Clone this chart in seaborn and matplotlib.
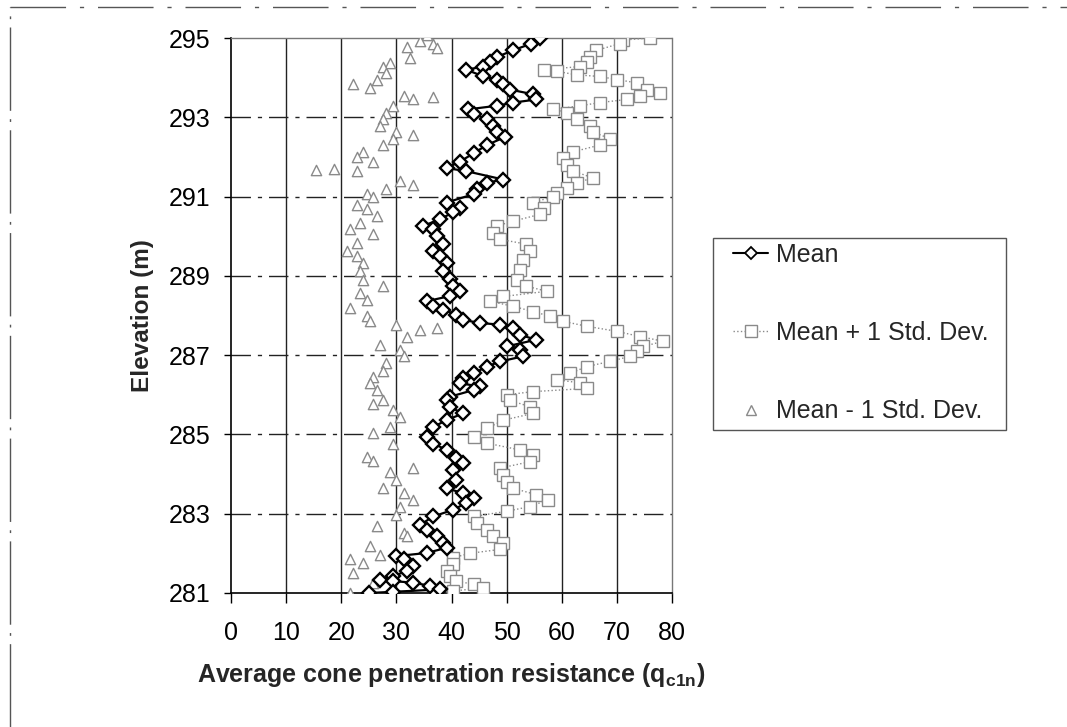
import matplotlib
matplotlib.use("Agg")
import matplotlib.pyplot as plt
from matplotlib.lines import Line2D
from matplotlib.patches import Rectangle
import seaborn as sns
import pandas as pd

# ---- data ----
mean_elev = [295.00, 294.86, 294.69, 294.52, 294.40, 294.28, 294.20, 294.03, 293.95, 293.83,
             293.70, 293.58, 293.45, 293.37, 293.29, 293.20, 293.08, 292.96, 292.79, 292.63,
             292.50, 292.30, 292.09, 291.88, 291.72, 291.64, 291.43, 291.35, 291.18, 291.06,
             290.85, 290.72, 290.60, 290.43, 290.26, 290.17, 290.00, 289.80, 289.62, 289.50,
             289.33, 289.12, 288.91, 288.74, 288.61, 288.49, 288.36, 288.23, 288.15, 288.02,
             287.89, 287.81, 287.77, 287.68, 287.51, 287.39, 287.22, 287.13, 286.97, 286.84,
             286.71, 286.54, 286.42, 286.29, 286.21, 286.12, 285.95, 285.86, 285.69, 285.53,
             285.36, 285.19, 284.94, 284.77, 284.61, 284.40, 284.27, 284.10, 283.85, 283.64,
             283.52, 283.39, 283.27, 283.10, 282.93, 282.72, 282.60, 282.43, 282.26, 282.14,
             282.01, 281.93, 281.85, 281.68, 281.55, 281.43, 281.34, 281.30, 281.26, 281.18,
             281.09, 281.03, 281.00]
mean_val = [56.0, 54.5, 51.2, 48.2, 47.0, 45.8, 42.7, 45.8, 48.2, 49.4,
            50.6, 54.8, 55.4, 51.2, 48.2, 43.0, 44.0, 46.4, 47.6, 48.2,
            49.7, 46.4, 44.0, 41.5, 39.1, 42.7, 49.4, 46.4, 44.6, 44.0,
            39.1, 41.5, 40.3, 37.9, 34.9, 36.7, 37.3, 38.5, 36.7, 37.9,
            39.1, 38.5, 39.7, 40.3, 41.5, 39.7, 35.5, 36.7, 38.5, 40.9,
            42.1, 45.2, 48.8, 51.2, 52.4, 55.4, 50.0, 52.4, 53.0, 48.8,
            46.4, 44.0, 42.1, 41.5, 45.2, 44.0, 39.7, 39.1, 39.7, 42.1,
            39.1, 36.7, 35.5, 36.7, 39.1, 40.9, 42.1, 40.3, 40.9, 39.1,
            42.1, 44.0, 42.7, 40.3, 36.7, 34.3, 35.5, 37.3, 38.5, 39.1,
            35.5, 30.0, 31.3, 33.1, 31.9, 29.4, 27.0, 29.4, 33.1, 36.1,
            37.9, 29.4, 25.0]

plus_elev = [295.00, 294.95, 294.86, 294.69, 294.53, 294.40, 294.28, 294.20, 294.16, 294.07,
             294.03, 293.95, 293.87, 293.70, 293.62, 293.54, 293.45, 293.37, 293.29, 293.20,
             293.12, 292.96, 292.79, 292.63, 292.46, 292.30, 292.13, 291.97, 291.80, 291.64,
             291.47, 291.35, 291.22, 291.10, 291.00, 290.85, 290.72, 290.55, 290.38, 290.26,
             290.09, 289.92, 289.80, 289.62, 289.41, 289.16, 288.90, 288.74, 288.61, 288.48,
             288.36, 288.23, 288.10, 287.98, 287.85, 287.73, 287.60, 287.47, 287.35, 287.22,
             287.10, 286.97, 286.84, 286.71, 286.54, 286.38, 286.30, 286.16, 286.08, 286.00,
             285.86, 285.70, 285.53, 285.36, 285.15, 284.94, 284.78, 284.61, 284.48, 284.31,
             284.15, 283.98, 283.81, 283.64, 283.48, 283.35, 283.18, 283.06, 282.93, 282.77,
             282.60, 282.43, 282.26, 282.10, 282.00, 281.89, 281.72, 281.55, 281.43, 281.30,
             281.22, 281.13, 281.05, 281.00]
plus_val = [76.0, 71.2, 70.6, 66.3, 65.1, 64.5, 63.3, 56.7, 59.1, 62.7,
            66.9, 70.0, 73.6, 75.4, 77.8, 74.2, 71.8, 66.9, 63.3, 58.5,
            60.9, 62.7, 65.1, 65.7, 68.7, 66.9, 62.1, 60.3, 60.9, 62.1,
            65.7, 62.7, 60.9, 59.1, 58.5, 54.8, 56.7, 56.0, 51.2, 48.2,
            47.6, 48.8, 53.6, 54.2, 53.0, 52.4, 51.8, 53.6, 57.3, 49.4,
            47.0, 51.2, 54.8, 57.9, 60.3, 64.5, 70.0, 74.2, 78.4, 74.8,
            73.6, 72.4, 68.7, 64.5, 61.5, 59.1, 63.3, 64.5, 54.8, 50.0,
            50.6, 54.2, 54.8, 49.4, 46.4, 44.0, 46.4, 52.4, 54.8, 54.2,
            48.8, 49.4, 50.0, 51.2, 55.4, 57.5, 54.2, 50.0, 44.0, 44.6,
            46.4, 47.6, 49.4, 48.8, 43.3, 40.3, 40.3, 39.1, 39.7, 40.9,
            44.0, 45.8, 40.3, 37.0]

minus_elev = [295.07, 294.92, 294.86, 294.78, 294.74, 294.50, 294.36, 294.28, 294.12, 293.95,
              293.83, 293.75, 293.54, 293.50, 293.45, 293.29, 293.12, 292.96, 292.79, 292.63,
              292.55, 292.46, 292.30, 292.13, 292.00, 291.88, 291.68, 291.70, 291.64, 291.39,
              291.30, 291.18, 291.06, 291.00, 290.80, 290.68, 290.51, 290.34, 290.17, 290.05,
              289.84, 289.62, 289.50, 289.33, 289.12, 288.90, 288.74, 288.57, 288.40, 288.19,
              287.98, 287.85, 287.77, 287.64, 287.68, 287.47, 287.26, 287.13, 286.97, 286.80,
              286.59, 286.46, 286.30, 286.12, 285.87, 285.78, 285.61, 285.44, 285.19, 285.03,
              284.77, 284.44, 284.32, 284.15, 284.06, 283.85, 283.64, 283.52, 283.35, 283.18,
              282.97, 282.68, 282.51, 282.43, 282.18, 281.97, 281.85, 281.76, 281.51, 281.26,
              281.10, 281.00]
minus_val = [35.5, 34.3, 36.7, 31.9, 37.3, 32.5, 28.8, 27.6, 28.2, 26.4,
             22.2, 25.2, 31.3, 36.7, 33.1, 29.4, 28.2, 27.6, 27.0, 30.0,
             33.1, 29.4, 27.6, 24.0, 22.8, 25.8, 15.5, 18.6, 22.8, 30.6,
             33.1, 28.2, 24.6, 25.8, 22.8, 24.6, 26.4, 23.4, 21.6, 25.8,
             22.8, 21.0, 22.8, 24.0, 23.4, 24.0, 27.6, 23.4, 24.6, 21.6,
             24.6, 25.2, 30.0, 34.3, 37.3, 31.9, 27.0, 30.6, 31.3, 28.2,
             27.6, 25.8, 25.2, 26.4, 27.6, 25.8, 29.4, 30.6, 28.8, 25.8,
             29.4, 24.6, 25.8, 33.1, 28.8, 30.0, 27.6, 31.3, 33.1, 30.6,
             30.0, 26.4, 31.3, 31.9, 25.2, 27.0, 21.6, 24.0, 22.2, 25.8,
             29.4, 21.6]

x_ticks = [0, 10, 20, 30, 40, 50, 60, 70, 80]
y_ticks = [281, 283, 285, 287, 289, 291, 293, 295]
legend_labels = ["Mean", "Mean + 1 Std. Dev.", "Mean - 1 Std. Dev."]

# ---- style ----
sns.set_theme(style="white")
plt.rcParams["font.family"] = ["Liberation Sans", "DejaVu Sans"]
plt.rcParams["mathtext.fontset"] = "custom"
plt.rcParams["mathtext.rm"] = "Liberation Sans"
plt.rcParams["mathtext.bf"] = "Liberation Sans:bold"

W, H = 1067, 727
fig = plt.figure(figsize=(W / 100, H / 100), dpi=100)
ax = fig.add_axes([231 / W, 1 - 593 / H, 441 / W, 555 / H])

df_mean = pd.DataFrame({"elev": mean_elev, "val": mean_val})
df_plus = pd.DataFrame({"elev": plus_elev, "val": plus_val})
df_minus = pd.DataFrame({"elev": minus_elev, "val": minus_val})

gray = "#8a8a8a"

sns.lineplot(data=df_plus, x="val", y="elev", orient="y", sort=False, estimator=None,
             ax=ax, color=gray, lw=1.0, ls=":", marker="s", markersize=8.5,
             markerfacecolor="white", markeredgecolor=gray, markeredgewidth=1.0, zorder=3)
sns.scatterplot(data=df_minus, x="val", y="elev", ax=ax, marker="^", s=55,
                facecolor="white", edgecolor=gray, linewidth=1.0, zorder=3)
sns.lineplot(data=df_mean, x="val", y="elev", orient="y", sort=False, estimator=None,
             ax=ax, color="black", lw=1.6, ls="-", marker="D", markersize=7,
             markerfacecolor="white", markeredgecolor="black", markeredgewidth=1.7, zorder=4)

ax.set_xlim(0, 80)
ax.set_ylim(281, 295)
ax.set_xticks(x_ticks)
ax.set_yticks(y_ticks)
ax.set_xticklabels([str(v) for v in x_ticks])
ax.set_yticklabels([str(v) for v in y_ticks])

# gridlines
for xv in x_ticks[1:-1]:
    ax.axvline(xv, color="#222222", lw=1.0, zorder=1)
for yv in y_ticks[1:-1]:
    ax.axhline(yv, color="#222222", lw=1.0, ls=(0, (14, 5, 3, 5)), zorder=1)

for s in ["left", "bottom"]:
    ax.spines[s].set_color("black")
    ax.spines[s].set_linewidth(1.2)
for s in ["top", "right"]:
    ax.spines[s].set_color("#777777")
    ax.spines[s].set_linewidth(1.0)
    ax.spines[s].set_linestyle((0, (2, 1)))

ax.tick_params(axis="y", direction="out", length=5, width=1, pad=10, labelsize=18,
               left=True, colors="black")
ax.tick_params(axis="x", direction="out", length=7, width=1, pad=13, labelsize=18,
               bottom=True, colors="black")

ax.set_xlabel(r"Average cone penetration resistance (q$_{\mathbf{c1n}}$)",
              fontsize=18, fontweight="bold", labelpad=12)
ax.set_ylabel("Elevation (m)", fontsize=17.5, fontweight="bold", labelpad=10)

handles = [
    Line2D([], [], color="black", lw=1.5, marker="D", markersize=6,
           markerfacecolor="white", markeredgecolor="black", markeredgewidth=1.3),
    Line2D([], [], color=gray, lw=1.0, ls=":", marker="s", markersize=8,
           markerfacecolor="white", markeredgecolor=gray),
    Line2D([], [], color=gray, lw=0, marker="^", markersize=7,
           markerfacecolor="white", markeredgecolor=gray),
]
# legend frame drawn as a separate rectangle (713..1006 x 238..430 px)
fig.add_artist(Rectangle((713 / W, 1 - 430 / H), 293 / W, 192 / H, transform=fig.transFigure,
                         fill=False, edgecolor="#555555", lw=1.0))
leg = fig.legend(handles, legend_labels, loc="center left",
                 bbox_to_anchor=(733 / W, 1 - 333 / H),
                 fontsize=18, frameon=False, handlelength=1.4,
                 handletextpad=0.3, labelspacing=2.17, borderpad=0.0, borderaxespad=0)

# outer frame (scan border)
fig.add_artist(Line2D([10 / W, 1.0], [1 - 7 / H, 1 - 7 / H], transform=fig.transFigure,
                      color="#555555", lw=1.0, ls=(0, (40, 10, 3, 10))))
fig.add_artist(Line2D([10 / W, 10 / W], [0, 1 - 7 / H], transform=fig.transFigure,
                      color="#555555", lw=1.0, ls=(0, (60, 6, 2, 6))))

fig.savefig("out.png", dpi=100)
